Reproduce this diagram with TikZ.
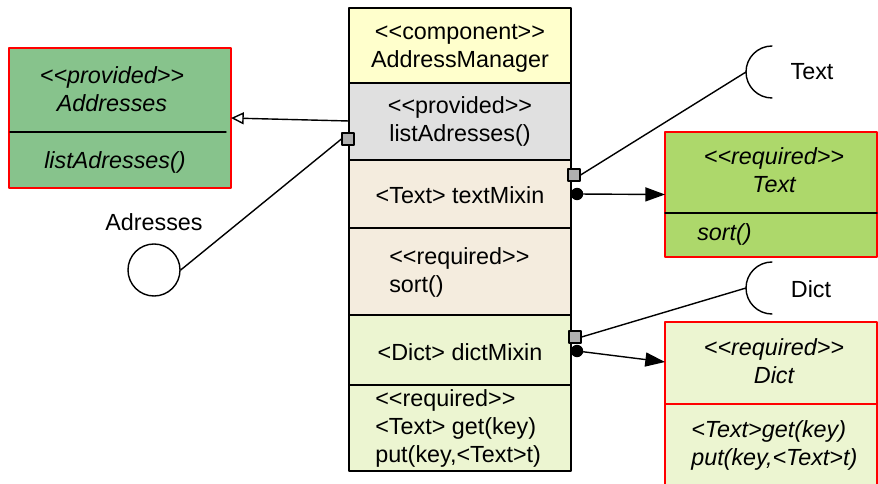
\documentclass[tikz,border=0pt]{standalone}
\usepackage{fontspec}
\setmainfont{Liberation Sans}
\usetikzlibrary{positioning,arrows.meta,calc}
\definecolor{compyellow}{HTML}{FFFFCC}
\definecolor{provgray}{HTML}{E0E0E0}
\definecolor{mixbeige}{HTML}{F4ECDE}
\definecolor{dictgreen}{HTML}{ECF5D1}
\definecolor{provgreen}{HTML}{87C38C}
\definecolor{reqgreen}{HTML}{ADD86B}
\definecolor{portgray}{HTML}{B0B0B0}
\newcommand{\stereo}[1]{<\kern0pt<#1>\kern0pt>}
\tikzset{
  umlfont/.style={font=\fontsize{16.6}{19.9}\selectfont, inner sep=0pt},
  umlit/.style={font=\fontsize{16.6}{19.9}\selectfont\itshape},
  row/.style={draw, line width=1pt, minimum width=5.55cm, inner sep=0pt, outer sep=0pt},
  ifbox/.style={draw=red, line width=1pt, inner sep=0pt, outer sep=0pt, anchor=north west},
  port/.style={draw, fill=portgray, minimum size=0.3cm, inner sep=0pt, line width=0.8pt},
  plug/.style={circle, fill=black, minimum size=0.31cm, inner sep=0pt},
  wire/.style={line width=1pt}
}
\begin{document}
\begin{tikzpicture}[x=0.025cm,y=-0.025cm,line cap=round,line join=round,every node/.style={umlfont}]
  \useasboundingbox (0,0) rectangle (878,484);
  \node[row,fill=compyellow,minimum height=1.875cm,anchor=north west] (comp) at (349,8) {};
  \node[row,fill=provgray,minimum height=1.925cm,below=0pt of comp] (prov) {};
  \node[row,fill=mixbeige,minimum height=1.7cm,below=0pt of prov] (textMix) {};
  \node[row,fill=mixbeige,minimum height=2.175cm,below=0pt of textMix] (textReq) {};
  \node[row,fill=dictgreen,minimum height=1.75cm,below=0pt of textReq] (dictMix) {};
  \node[row,fill=dictgreen,minimum height=2.15cm,below=0pt of dictMix] (dictReq) {};
  \node[align=center] (compTxt) at (460,48) {\stereo{component}\\AddressManager};
  \node[align=center] (provTxt) at (460,121.5) {\stereo{provided}\\listAdresses()};
  \node (textMixTxt) at (460,195.5) {<Text> textMixin};
  \node[align=left,anchor=west] (textReqTxt) at (389,272.5) {\stereo{required}\\sort()};
  \node (dictMixTxt) at (460,352.5) {<Dict> dictMixin};
  \node[align=left,anchor=west] (dictReqTxt) at (375,428.5) {\stereo{required}\\<Text> get(key)\\put(key,<Text>t)};

  \node[ifbox,fill=provgreen,minimum width=5.55cm,minimum height=3.5cm] (addr) at (9,48) {};
  \draw[wire] (10,132) -- (226,132);
  \node[umlit,align=center] (addrName) at (112,89) {\stereo{provided}\\Addresses};
  \node[umlit] (addrOp) at (115,162) {listAdresses()};
  \coordinate (provOut) at (349,121);
  \draw[wire,-{Triangle[open,length=9pt,width=8.5pt]}] (provOut) -- (addr.east);
  \node[port] (portA) at (348,139) {};
  \node[circle,draw,line width=1pt,minimum size=1.3cm,inner sep=0pt] (addrIf) at (154,270) {};
  \node (addrLbl) at (154,222) {Adresses};
  \draw[wire] (addrIf.east) -- (portA.west);

  \node[ifbox,fill=reqgreen,minimum width=5.3cm,minimum height=3.125cm] (reqText) at (665,132) {};
  \draw[wire] (665,213) -- (877,213);
  \node[umlit,align=center] (reqTextName) at (774,170) {\stereo{required}\\Text};
  \node[umlit,anchor=west] (reqTextOp) at (697,234) {sort()};
  \coordinate (textSock) at (772,72);
  \coordinate (textSockL) at (746,72);
  \draw[wire] (textSock) ++(0,26) arc[start angle=90,end angle=270,radius=26];
  \node (textLbl) at (812,72) {Text};
  \node[port] (portT) at (574,175) {};
  \node[plug] (dotT) at (577,194) {};
  \draw[wire] (portT.east) -- (textSockL);
  \draw[wire,-{Triangle[length=14pt,width=10pt]}] (dotT) -- (reqText.west);

  \node[ifbox,fill=dictgreen,minimum width=5.3cm,minimum height=4.25cm] (reqDict) at (665,322) {};
  \draw[wire,red] (665,404) -- (877,404);
  \node[umlit,align=center] (reqDictName) at (774,361) {\stereo{required}\\Dict};
  \node[umlit,align=left,anchor=west] (reqDictOps) at (691,445.5) {<Text>get(key)\\put(key,<Text>t)};
  \coordinate (dictSock) at (772,288);
  \coordinate (dictSockL) at (746,288);
  \draw[wire] (dictSock) ++(0,26) arc[start angle=90,end angle=270,radius=26];
  \node (dictLbl) at (811,289) {Dict};
  \node[port] (portD) at (575,337) {};
  \node[plug] (dotD) at (577,351) {};
  \draw[wire] (portD.east) -- (dictSockL);
  \draw[wire,-{Triangle[length=14pt,width=10pt]}] (dotD) -- ($(reqDict.north west)+(0,40)$);
\end{tikzpicture}
\end{document}
